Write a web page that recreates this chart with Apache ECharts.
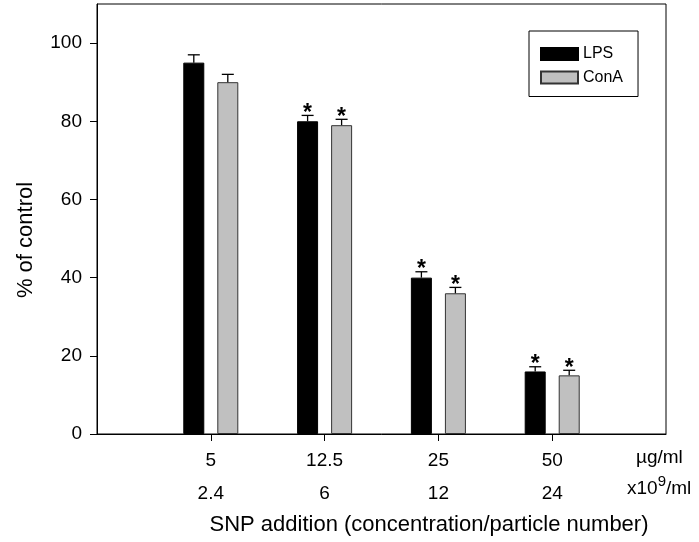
<!DOCTYPE html>
<html>
<head>
<meta charset="utf-8">
<script src="https://cdn.jsdelivr.net/npm/echarts@6/dist/echarts.min.js"></script>
<style>
  html, body { margin: 0; padding: 0; background: #fff; }
  #chart { width: 699px; height: 542px; }
</style>
</head>
<body>
<div id="chart"></div>
<script>
// SNP concentrations (µg/ml) and matching particle numbers (x10^9/ml)
const concentrations = ['5', '12.5', '25', '50'];
const particleCounts = ['2.4', '6', '12', '24'];
const groupPositions = [1, 2, 3, 4];

// Proliferation, % of control (mean and upper error)
const lpsMean = [95, 80, 40, 16];
const lpsErr = [2, 1.5, 1.5, 1.2];
const conaMean = [90, 79, 36, 15];
const conaErr = [2, 1.5, 1.5, 1.3];

// Significance markers
const lpsSig = [0, 1, 1, 1];
const conaSig = [0, 1, 1, 1];

const yTicks = [0, 20, 40, 60, 80, 100];

const FONT = 'Liberation Sans, Arial, sans-serif';
const BAR_W = 21;
const BAR_GAP = 13;

const chart = echarts.init(document.getElementById('chart'), null, { renderer: 'canvas' });

function errorSeries(name, means, errs, sig, shift) {
  return {
    type: 'custom',
    name: name + ' error',
    z: 5,
    silent: true,
    data: groupPositions.map((x, i) => [x, means[i], errs[i], sig[i]]),
    renderItem(params, api) {
      const x = api.value(0), y = api.value(1), e = api.value(2), s = api.value(3);
      const base = api.coord([x, y]);
      const top = api.coord([x, y + e]);
      const cx = base[0] + shift;
      const style = { stroke: '#000', lineWidth: 1.3 };
      const children = [
        { type: 'line', shape: { x1: cx, y1: base[1], x2: cx, y2: top[1] }, style },
        { type: 'line', shape: { x1: cx - 6, y1: top[1], x2: cx + 6, y2: top[1] }, style }
      ];
      if (s) {
        children.push({
          type: 'text',
          style: {
            text: '*', x: cx, y: top[1] - 2,
            align: 'center', verticalAlign: 'middle',
            font: 'bold 23px ' + FONT, fill: '#000'
          }
        });
      }
      return { type: 'group', children };
    }
  };
}

const option = {
  animation: false,
  backgroundColor: '#fff',
  grid: {
    left: 97, right: 33, top: 4, bottom: 108,
    show: true, borderColor: '#000', borderWidth: 1, backgroundColor: 'transparent'
  },
  legend: {
    data: ['LPS', 'ConA'],
    orient: 'vertical',
    left: 529, top: 31,
    itemWidth: 37, itemHeight: 12, itemGap: 7.5,
    padding: [15, 15, 11, 11],
    borderColor: '#000', borderWidth: 1,
    icon: 'rect',
    textStyle: { fontFamily: FONT, fontSize: 16, color: '#000' }
  },
  xAxis: {
    type: 'value', min: 0, max: 5,
    splitLine: { show: false },
    axisLine: { lineStyle: { color: '#000', width: 1 } },
    axisTick: { customValues: groupPositions, length: 7, lineStyle: { color: '#000' } },
    axisLabel: {
      customValues: groupPositions,
      margin: 10,
      formatter: v => {
        const i = groupPositions.indexOf(v);
        return '{a|' + concentrations[i] + '}\n{a|' + particleCounts[i] + '}';
      },
      rich: { a: { fontFamily: FONT, fontSize: 19, lineHeight: 33, color: '#000' } }
    }
  },
  yAxis: {
    type: 'value', min: 0, max: 110,
    splitLine: { show: false },
    axisLine: { show: true, lineStyle: { color: '#000', width: 1 } },
    axisTick: { show: true, customValues: yTicks, length: 7, lineStyle: { color: '#000' } },
    axisLabel: { customValues: yTicks, margin: 15, fontFamily: FONT, fontSize: 19, color: '#000' }
  },
  graphic: [
    {
      type: 'text', left: 636, top: 448,
      style: { text: 'µg/ml', font: '19px ' + FONT, fill: '#000' }
    },
    {
      type: 'text', left: 627, top: 474,
      style: {
        text: '{a|x10}{s|9}{a|/ml}',
        rich: {
          a: { font: '19px ' + FONT, fill: '#000', verticalAlign: 'bottom', lineHeight: 24 },
          s: { font: '15px ' + FONT, fill: '#000', verticalAlign: 'top', lineHeight: 24 }
        }
      }
    },
    {
      type: 'text', x: 429, y: 525,
      style: {
        text: 'SNP addition (concentration/particle number)',
        font: '22px ' + FONT, fill: '#000', align: 'center', verticalAlign: 'middle'
      }
    },
    {
      type: 'text', x: 26, y: 240, rotation: Math.PI / 2,
      style: {
        text: '% of control',
        font: '22px ' + FONT, fill: '#000', align: 'center', verticalAlign: 'middle'
      }
    }
  ],
  series: [
    {
      name: 'LPS', type: 'bar',
      barWidth: BAR_W, barGap: (BAR_GAP / BAR_W * 100).toFixed(0) + '%',
      itemStyle: { color: '#000', borderColor: '#000', borderWidth: 1 },
      data: groupPositions.map((x, i) => [x, lpsMean[i]])
    },
    {
      name: 'ConA', type: 'bar',
      barWidth: BAR_W,
      itemStyle: { color: '#c0c0c0', borderColor: '#333', borderWidth: 1 },
      data: groupPositions.map((x, i) => [x, conaMean[i]])
    },
    errorSeries('LPS', lpsMean, lpsErr, lpsSig, -(BAR_W + BAR_GAP) / 2),
    errorSeries('ConA', conaMean, conaErr, conaSig, (BAR_W + BAR_GAP) / 2)
  ]
};

chart.setOption(option);
</script>
</body>
</html>
